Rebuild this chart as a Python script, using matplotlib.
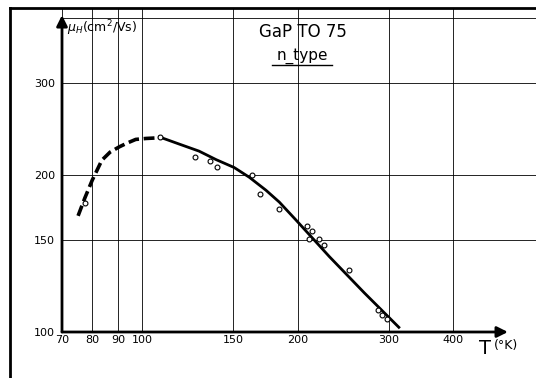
import matplotlib
matplotlib.use('Agg')
import matplotlib.pyplot as plt
from matplotlib.ticker import NullLocator, NullFormatter
from matplotlib.lines import Line2D

# measured Hall mobility, GaP TO 75 n-type
T_meas = [77.4, 108.1, 126.5, 135.3, 139.3, 163.2, 169.3, 184.1, 208.2, 212.9,
          210.5, 220.3, 224.6, 251.1, 286.3, 290.5, 297.1]
mu_meas = [176.7, 237.0, 216.7, 212.6, 207.4, 199.6, 183.8, 172.0, 159.8, 155.9,
           150.9, 150.5, 146.6, 131.6, 110.0, 107.9, 106.1]

# fitted curve (solid part)
T_fit = [108.1, 117.9, 128.9, 139.1, 150.7, 161.2, 173.6, 184.3, 198.5, 230.4, 269.2, 313.8]
mu_fit = [236.5, 229.3, 222.2, 214.0, 206.7, 198.0, 187.0, 177.4, 163.9, 139.4, 118.8, 102.1]

# extrapolated low temperature part (dashed)
T_ext = [75.2, 77.5, 80.1, 83.6, 86.7, 90.3, 93.5, 97.2, 101.8, 106.3, 108.1]
mu_ext = [167.0, 180.7, 195.5, 213.5, 221.2, 226.4, 230.2, 234.0, 235.0, 235.5, 236.5]

xticks = [70, 80, 90, 100, 150, 200, 300, 400]
yticks = [100, 150, 200, 300, 400]
ylabels = ['100', '150', '200', '300', '']

fig = plt.figure(figsize=(5.36, 3.78), dpi=100)
ax = fig.add_axes([62 / 536, 46 / 378, 1 - 62 / 536, (332 - 8) / 378])
ax.set_xscale('log')
ax.set_yscale('log')
ax.set_xlim(70, 578)
ax.set_ylim(100, 418)

ax.xaxis.set_minor_locator(NullLocator())
ax.yaxis.set_minor_locator(NullLocator())
ax.xaxis.set_minor_formatter(NullFormatter())
ax.yaxis.set_minor_formatter(NullFormatter())
ax.set_xticks(xticks)
ax.set_xticklabels([str(t) for t in xticks])
ax.set_yticks(yticks)
ax.set_yticklabels(ylabels)
ax.tick_params(length=0, labelsize=8)
ax.tick_params(axis='x', pad=2)
ax.tick_params(axis='y', pad=5)
ax.grid(True, color='black', lw=0.6)
for s in ax.spines.values():
    s.set_visible(False)

# axes with arrows
ax.annotate('', xy=(510, 100), xytext=(70, 100),
            arrowprops=dict(arrowstyle='-|>', lw=2, color='black', mutation_scale=16,
                            shrinkA=0, shrinkB=0), annotation_clip=False)
ax.annotate('', xy=(70, 405), xytext=(70, 100),
            arrowprops=dict(arrowstyle='-|>', lw=2, color='black', mutation_scale=16,
                            shrinkA=0, shrinkB=0), annotation_clip=False)

ax.plot(T_ext, mu_ext, color='black', lw=2.6, ls=(0, (3, 1.3)), solid_capstyle='butt')
ax.plot(T_fit, mu_fit, color='black', lw=2.0, solid_joinstyle='round')
ax.plot(T_meas, mu_meas, 'o', ms=3.5, mfc='white', mec='black', mew=0.8)

# labels
fig.text(67 / 536, 1 - 28 / 378, r'$\mu_H$(cm$^2$/Vs)', fontsize=9, va='center', ha='left')
fig.text(303 / 536, 1 - 32 / 378, 'GaP TO 75', fontsize=12, ha='center', va='center')
fig.text(302 / 536, 1 - 56 / 378, 'n_type', fontsize=11, ha='center', va='center')
fig.add_artist(Line2D([272 / 536, 332 / 536], [1 - 65 / 378, 1 - 65 / 378], color='black', lw=1))
fig.text(479 / 536, 1 - 348 / 378, 'T', fontsize=14, ha='left', va='center')
fig.text(494 / 536, 1 - 345 / 378, '(°K)', fontsize=9, ha='left', va='center')

# outer frame
fig.add_artist(Line2D([10 / 536, 10 / 536], [0, 1 - 8 / 378], color='black', lw=2))
fig.add_artist(Line2D([10 / 536, 1], [1 - 8 / 378, 1 - 8 / 378], color='black', lw=2))

plt.savefig('out.png', dpi=100)
